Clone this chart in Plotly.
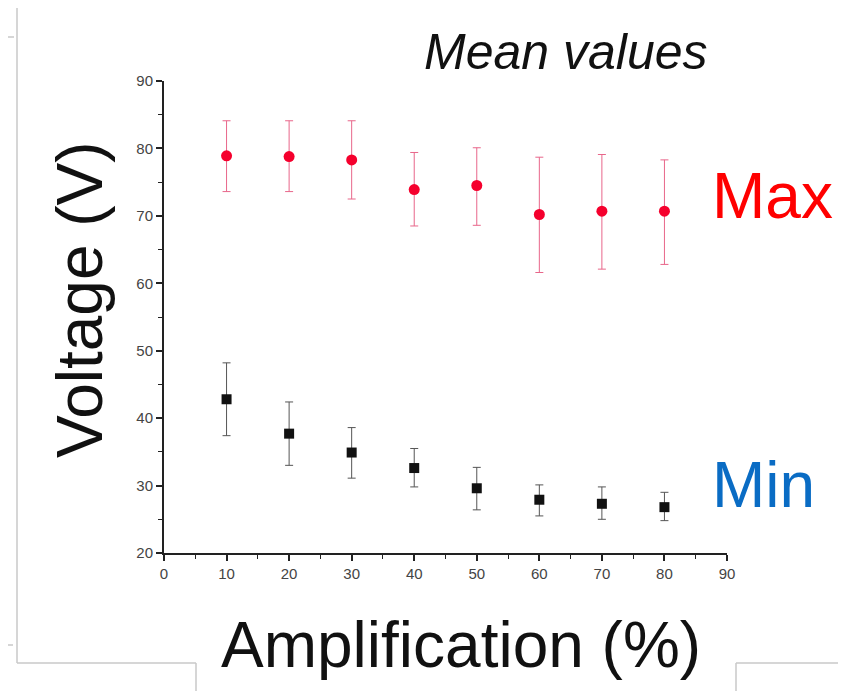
import plotly.graph_objects as go

# ---------------- data ----------------
amplification = [10, 20, 30, 40, 50, 60, 70, 80]

max_mean = [78.9, 78.8, 78.3, 73.9, 74.5, 70.2, 70.7, 70.7]
max_err_plus = [5.2, 5.3, 5.8, 5.5, 5.6, 8.5, 8.4, 7.6]
max_err_minus = [5.3, 5.2, 5.8, 5.4, 5.9, 8.6, 8.6, 7.9]

min_mean = [42.8, 37.7, 34.9, 32.6, 29.6, 27.9, 27.3, 26.8]
min_err_plus = [5.4, 4.7, 3.7, 2.9, 3.1, 2.2, 2.5, 2.2]
min_err_minus = [5.4, 4.7, 3.8, 2.8, 3.2, 2.4, 2.3, 2.0]

x_ticks = [0, 10, 20, 30, 40, 50, 60, 70, 80, 90]
y_ticks = [20, 30, 40, 50, 60, 70, 80, 90]

# ---------------- layout geometry ----------------
W, H = 846, 691
OFF = 8  # page body margin
# plot area in window pixels: x 164..727, y 81..553
L = 164 - OFF
T = 81 - OFF
R = W - (727 - OFF)
B = H - (553 - OFF)
PW, PH = W - L - R, H - T - B


def px(x):
    return (x - OFF - L) / PW


def py(y):
    return (H - B - (y - OFF)) / PH


FONT = "Liberation Sans, Arial, Helvetica, sans-serif"

fig = go.Figure()

fig.add_trace(go.Scatter(
    x=amplification, y=max_mean, mode="markers", name="Max",
    marker=dict(symbol="circle", size=11, color="#f5002d"),
    error_y=dict(type="data", symmetric=False, array=max_err_plus,
                 arrayminus=max_err_minus, color="#e8668a",
                 thickness=1, width=4),
))

fig.add_trace(go.Scatter(
    x=amplification, y=min_mean, mode="markers", name="Min",
    marker=dict(symbol="square", size=10, color="#111111"),
    error_y=dict(type="data", symmetric=False, array=min_err_plus,
                 arrayminus=min_err_minus, color="#555555",
                 thickness=1, width=4),
))

axis_common = dict(
    showline=True, linecolor="#222222", linewidth=2,
    ticks="outside", ticklen=6, tickwidth=1.5, tickcolor="#222222",
    showgrid=False, zeroline=False, mirror=False,
    tickfont=dict(family=FONT, size=15, color="#444444"),
    minor=dict(ticks="outside", ticklen=4, tickwidth=1.2,
               tickcolor="#222222", dtick=5, showgrid=False),
)

fig.update_xaxes(range=[0, 90], tickmode="array", tickvals=x_ticks,
                 ticktext=[str(v) for v in x_ticks], **axis_common)
fig.update_yaxes(range=[20, 90], tickmode="array", tickvals=y_ticks,
                 ticktext=[str(v) for v in y_ticks], **axis_common)

annotations = [
    dict(text="Voltage (V)", x=px(80), y=py(300), textangle=-90,
         font=dict(family=FONT, size=64, color="#111111")),
    dict(text="Amplification (%)", x=px(461), y=py(645),
         font=dict(family=FONT, size=64, color="#111111")),
    dict(text="<i>Mean values</i>", x=px(566), y=py(52),
         font=dict(family=FONT, size=50, color="#111111")),
    dict(text="Max", x=px(772), y=py(196),
         font=dict(family=FONT, size=64, color="#ff0000")),
    dict(text="Min", x=px(763), y=py(485),
         font=dict(family=FONT, size=64, color="#0a6cc4")),
]
for a in annotations:
    a.update(xref="paper", yref="paper", xanchor="center", yanchor="middle",
             showarrow=False)

# light frame lines (scan border), window pixel coordinates
frame = [
    (17, 5, 840, 5), (17, 5, 17, 663), (840, 5, 840, 663),
    (17, 663, 196, 663), (196, 663, 196, 691),
    (736, 663, 840, 663), (736, 663, 736, 691),
    (0, 37, 14, 37), (0, 645, 13, 645),
]
shapes = [dict(type="line", xref="paper", yref="paper",
               x0=px(a), y0=py(b), x1=px(c), y1=py(d),
               line=dict(color="#c8c8c8", width=1.5)) for a, b, c, d in frame]

fig.update_layout(
    width=W, height=H,
    margin=dict(l=L, r=R, t=T, b=B, pad=0),
    paper_bgcolor="white", plot_bgcolor="white",
    showlegend=False,
    annotations=annotations,
    shapes=shapes,
)

fig.write_html("out.html")
